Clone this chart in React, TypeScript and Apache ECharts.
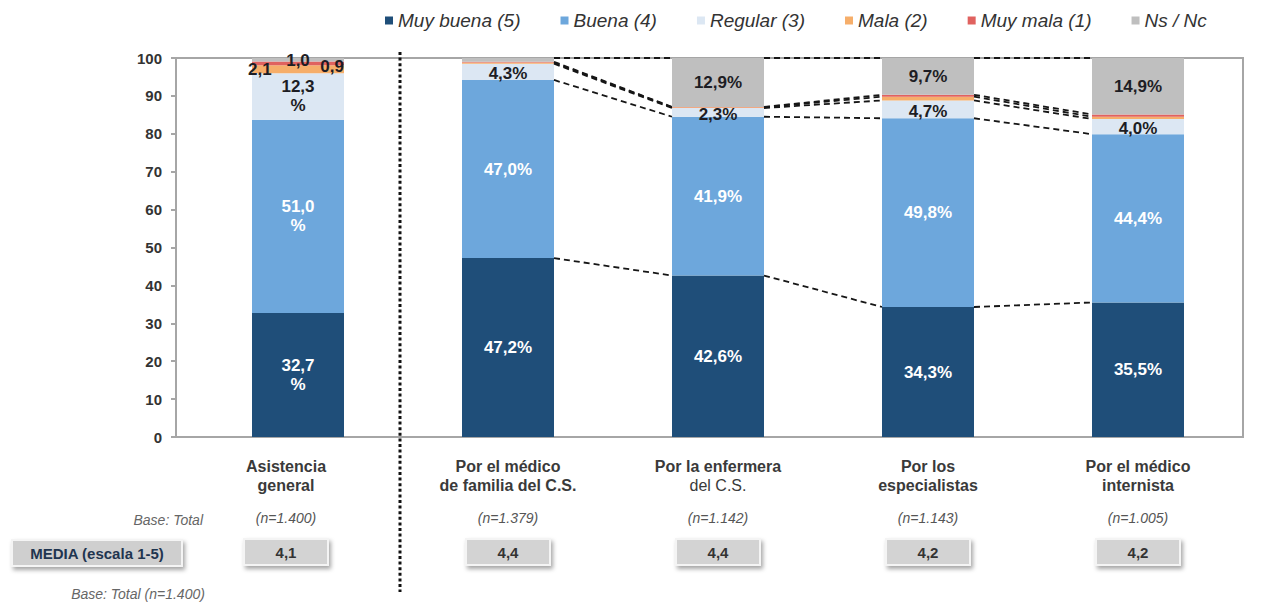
import React, { useEffect, useRef } from "react";
import * as echarts from "echarts";

const categories = [
  "Asistencia\ngeneral",
  "Por el médico\nde familia del C.S.",
  "Por la enfermera\ndel C.S.",
  "Por los\nespecialistas",
  "Por el médico\ninternista",
];
const seriesNames = ["Muy buena (5)", "Buena (4)", "Regular (3)", "Mala (2)", "Muy mala (1)", "Ns / Nc"];
const muyBuena = [32.7, 47.2, 42.6, 34.3, 35.5];
const buena = [51.0, 47.0, 41.9, 49.8, 44.4];
const regular = [12.3, 4.3, 2.3, 4.7, 4.0];
const mala = [2.1, 0.3, 0.2, 1.0, 0.6];
const muyMala = [1.0, 0.2, 0.1, 0.5, 0.6];
const nsnc = [0.9, 1.0, 12.9, 9.7, 14.9];
const baseN = ["(n=1.400)", "(n=1.379)", "(n=1.142)", "(n=1.143)", "(n=1.005)"];
const media = [4.1, 4.4, 4.4, 4.2, 4.2];
const yTicks = { min: 0, max: 100, interval: 10 };

const colors = ["#1F4E79", "#6DA7DC", "#DCE7F3", "#F6AE6A", "#E0625F", "#BFBFBF"];
const FONT = "'Liberation Sans', Arial, sans-serif";
const BAR_W = 92;
const FIRST_SHIFT = 24; // spacer width for first column labels

const fmt = (v: number) => v.toFixed(1).replace(".", ",");

export default function App() {
  const ref = useRef<HTMLDivElement>(null);
  useEffect(() => {
    if (!ref.current) return;
    const chart = echarts.init(ref.current, undefined, { renderer: "svg" });
    const all = [muyBuena, buena, regular, mala, muyMala, nsnc];
    const cum: number[][] = [];
    all.forEach((arr, k) => {
      cum.push(arr.map((v, i) => (k === 0 ? 0 : cum[k - 1][i]) + v));
    });
    const connData: number[][] = [];
    for (let i = 1; i < categories.length - 1; i++) {
      for (let k = 0; k < all.length; k++) {
        connData.push([i, cum[k][i], cum[k][i + 1]]);
      }
    }
    const dark = "#1d1d24";
    const makeItem = (k: number, v: number, i: number) => {
      const base: any = { value: v };
      const first = i === 0;
      if (k === 0 || k === 1) {
        base.label = { show: true, color: "#fff", formatter: first ? fmt(v) + "\n%" : fmt(v) + "%" };
      } else if (k === 2) {
        base.label = { show: true, color: dark, offset: [0, first ? 0 : 2], formatter: first ? fmt(v) + "\n%" : fmt(v) + "%" };
      } else if (k === 3) {
        base.label = first
          ? { show: true, color: dark, position: "insideLeft", distance: 0, offset: [-4, 0], formatter: fmt(v) }
          : { show: false };
      } else if (k === 4) {
        base.label = first
          ? { show: true, color: dark, position: "inside", offset: [0, -3], formatter: fmt(v) }
          : { show: false };
      } else {
        if (first) base.label = { show: true, color: dark, position: "insideRight", distance: 0, offset: [0, 7], formatter: fmt(v) };
        else if (v >= 3) base.label = { show: true, color: dark, formatter: fmt(v) + "%" };
        else base.label = { show: false };
      }
      return base;
    };
    const barSeries = all.map((arr, k) => ({
      name: seriesNames[k],
      type: "bar",
      stack: "total",
      barWidth: BAR_W,
      itemStyle: { color: colors[k] },
      label: { show: false, fontFamily: FONT, fontWeight: "bold", fontSize: 17, lineHeight: 19 },
      data: arr.map((v, i) => makeItem(k, v, i)),
      z: 3,
    }));
    const connSeries = {
      name: "conn",
      type: "custom",
      data: connData,
      encode: { x: 0, y: 1 },
      z: 4,
      silent: true,
      renderItem: (params: any, api: any) => {
        const i = api.value(0);
        const a = api.coord([i, api.value(1)]);
        const b = api.coord([i + 1, api.value(2)]);
        const half = BAR_W / 2;
        return {
          type: "line",
          shape: { x1: a[0] + half, y1: a[1], x2: b[0] - half, y2: b[1] },
          style: { stroke: "#161616", lineWidth: 1.8, lineDash: [6, 4] },
        };
      },
    };
    const sp = (idx: number) => (idx === 0 ? "{sp|}" : "");
    const option: any = {
      animation: false,
      textStyle: { fontFamily: FONT },
      legend: {
        data: seriesNames,
        left: 380,
        top: 6,
        icon: "rect",
        itemWidth: 8,
        itemHeight: 8,
        itemGap: 40,
        textStyle: { fontStyle: "italic", fontSize: 19, color: "#333", fontFamily: FONT },
      },
      grid: { left: 193, right: 27, top: 58, bottom: 169, containLabel: false },
      xAxis: [
        {
          type: "category",
          data: categories,
          axisLine: { show: false },
          axisTick: { show: false },
          axisLabel: {
            margin: 20,
            interval: 0,
            formatter: (val: string, idx: number) => {
              const lines = val.split("\n");
              if (val.startsWith("Por la enfermera")) return `{b|${lines[0]}}\n{r|${lines[1]}}`;
              return lines.map((l) => `{b|${l}}${sp(idx)}`).join("\n");
            },
            rich: {
              b: { fontFamily: FONT, fontWeight: "bold", fontSize: 16, color: "#3a3a3a", lineHeight: 19 },
              r: { fontFamily: FONT, fontWeight: "normal", fontSize: 16, color: "#3a3a3a", lineHeight: 19 },
              sp: { width: FIRST_SHIFT },
            },
          },
        },
        {
          type: "category",
          position: "bottom",
          offset: 74,
          data: baseN,
          axisLine: { show: false },
          axisTick: { show: false },
          axisLabel: {
            margin: 0,
            interval: 0,
            formatter: (v: string, idx: number) => `{n|${v}}${sp(idx)}`,
            rich: {
              n: { fontStyle: "italic", fontSize: 14, color: "#555", fontFamily: FONT },
              sp: { width: FIRST_SHIFT },
            },
          },
        },
        {
          type: "category",
          position: "bottom",
          offset: 103,
          data: media.map(fmt),
          axisLine: { show: false },
          axisTick: { show: false },
          axisLabel: {
            margin: 0,
            interval: 0,
            formatter: (v: string, idx: number) => `{box|${v}}${sp(idx)}`,
            rich: {
              box: {
                width: 82,
                height: 24,
                lineHeight: 24,
                align: "center",
                backgroundColor: "#d3d3d3",
                borderColor: "#f4f4f4",
                borderWidth: 2,
                shadowColor: "rgba(0,0,0,0.35)",
                shadowBlur: 4,
                shadowOffsetX: 2,
                shadowOffsetY: 3,
                fontFamily: FONT,
                fontWeight: "bold",
                fontSize: 15,
                color: "#333",
              },
              sp: { width: FIRST_SHIFT },
            },
          },
        },
      ],
      yAxis: {
        type: "value",
        min: yTicks.min,
        max: yTicks.max,
        interval: yTicks.interval,
        offset: 17,
        axisLine: { show: true, lineStyle: { color: "#a6a6a6", width: 2 } },
        axisTick: { show: true, length: 5, lineStyle: { color: "#a6a6a6", width: 2 } },
        splitLine: { show: false },
        axisLabel: { margin: 14, fontWeight: "bold", fontSize: 15, color: "#333", fontFamily: FONT },
      },
      graphic: [
        {
          type: "rect",
          z: 1,
          shape: { x: 176, y: 58, width: 1067, height: 379 },
          style: { fill: "none", stroke: "#a6a6a6", lineWidth: 2 },
        },
        {
          type: "line",
          z: 10,
          shape: { x1: 400, y1: 52, x2: 400, y2: 592 },
          style: { stroke: "#111", lineWidth: 3, lineDash: [3, 2.6] },
        },
        {
          type: "text",
          style: { text: "Base: Total", x: 203, y: 520, align: "right", verticalAlign: "middle", font: `italic 14px ${FONT}`, fill: "#666" },
        },
        {
          type: "rect",
          shape: { x: 12, y: 540, width: 170, height: 26 },
          style: { fill: "#cfcfcf", stroke: "#f4f4f4", lineWidth: 2, shadowColor: "rgba(0,0,0,0.35)", shadowBlur: 4, shadowOffsetX: 2, shadowOffsetY: 3 },
        },
        {
          type: "text",
          style: { text: "MEDIA (escala 1-5)", x: 97, y: 553, align: "center", verticalAlign: "middle", font: `bold 15px ${FONT}`, fill: "#1f3550" },
        },
        {
          type: "text",
          style: { text: "Base: Total (n=1.400)", x: 138, y: 594, align: "center", verticalAlign: "middle", font: `italic 14px ${FONT}`, fill: "#666" },
        },
      ],
      series: [...barSeries, connSeries],
    };
    chart.setOption(option);
    return () => chart.dispose();
  }, []);
  return <div ref={ref} style={{ width: 1270, height: 606, position: "absolute", left: 0, top: 0 }} />;
}
